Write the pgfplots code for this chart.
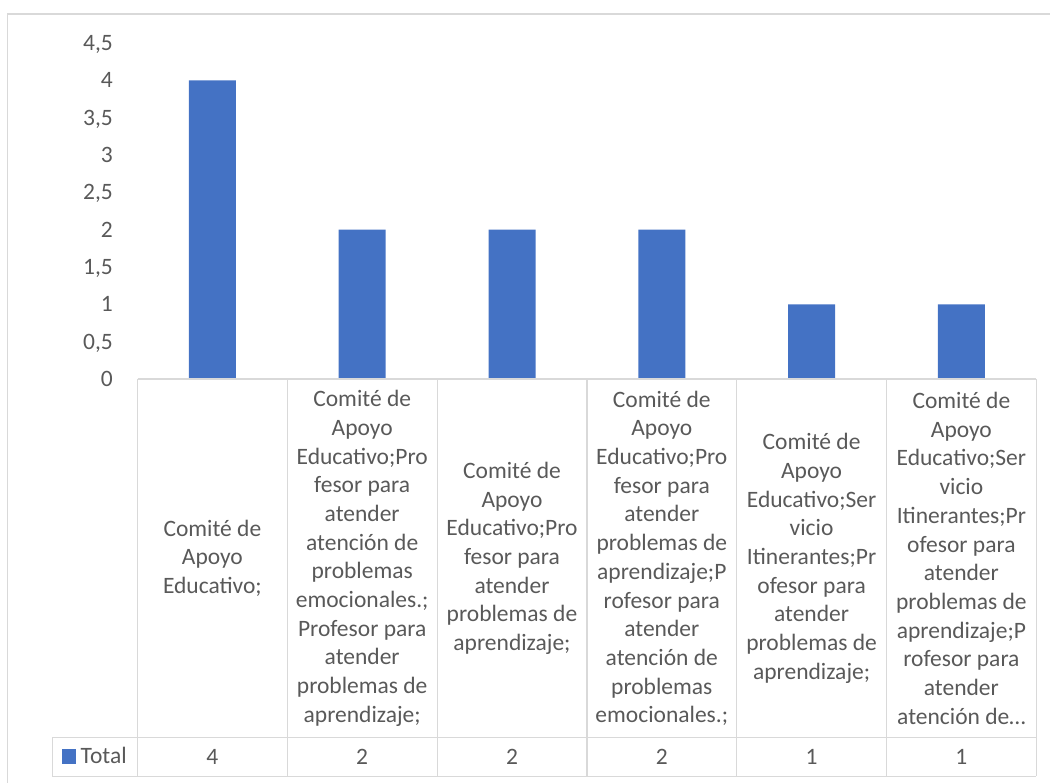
\documentclass[border=0pt]{standalone}
\usepackage{fontspec}
\setmainfont{Carlito}
\usepackage{pgfplots}
\pgfplotsset{compat=1.18}
\definecolor{barblue}{HTML}{4472C4}
\definecolor{txt}{HTML}{595959}
\definecolor{gridc}{HTML}{D9D9D9}
\newcommand{\cf}{\fontsize{23.5}{28.7}\selectfont}
\begin{document}
\begin{tikzpicture}
\useasboundingbox (0,0) rectangle (1050pt,-783pt);
% outer chart border (top and left visible)
\draw[gridc, line width=1.3pt] (7.3pt,-783pt) -- (7.3pt,-14pt) -- (1050pt,-14pt);
\begin{axis}[
  at={(137.5pt,-379pt)}, anchor=south west,
  scale only axis, width=898.8pt, height=336pt,
  xmin=-0.5, xmax=5.5, ymin=0, ymax=4.5,
  clip=false,
  /pgf/number format/assume math mode=true,
  axis line style={draw=none},
  major tick length=0pt,
  ytick={0,0.5,1,1.5,2,2.5,3,3.5,4,4.5},
  yticklabel style={/pgf/number format/.cd, use comma, fixed, precision=1, assume math mode=true, /tikz/.cd,
     anchor=east, inner sep=0pt, xshift=-24.5pt, text depth=0pt, font=\cf, text=txt},
  xtick={0,1,2,3,4,5},
  xticklabels={
    {Comité de\\Apoyo\\Educativo;},
    {Comité de\\Apoyo\\Educativo;Pro\\fesor para\\atender\\atención de\\problemas\\emocionales.;\\Profesor para\\atender\\problemas de\\aprendizaje;},
    {Comité de\\Apoyo\\Educativo;Pro\\fesor para\\atender\\problemas de\\aprendizaje;},
    {Comité de\\Apoyo\\Educativo;Pro\\fesor para\\atender\\problemas de\\aprendizaje;P\\rofesor para\\atender\\atención de\\problemas\\emocionales.;},
    {Comité de\\Apoyo\\Educativo;Ser\\vicio\\Itinerantes;Pr\\ofesor para\\atender\\problemas de\\aprendizaje;},
    {Comité de\\Apoyo\\Educativo;Ser\\vicio\\Itinerantes;Pr\\ofesor para\\atender\\problemas de\\aprendizaje;P\\rofesor para\\atender\\atención de…}
  },
  xticklabel style={anchor=center, align=center, yshift=-179.3pt, font=\cf, text=txt, inner sep=0pt},
  legend style={at={(-0.08367,-1.1235)}, anchor=west, draw=none, fill=none, inner sep=0pt, outer sep=0pt,
     font=\cf, text=txt, nodes={inner sep=0pt}},
  legend cell align=left,
  legend image code/.code={\fill[barblue] (0pt,-7.1pt) rectangle (13.7pt,7.1pt); \path (18.4pt,0pt);},
]
\addplot[ybar, bar width=47pt, bar shift=0pt, fill=barblue, draw=none]
  coordinates {(0,4) (1,2) (2,2) (3,2) (4,1) (5,1)};
\addlegendentry{Total}
\addplot[forget plot, draw=none, mark=none, nodes near coords, point meta=explicit,
  every node near coord/.append style={anchor=center, yshift=-377.5pt, font=\cf, text=txt, inner sep=0pt,
    /pgf/number format/assume math mode=true}]
  coordinates {(0,0) [4] (1,0) [2] (2,0) [2] (3,0) [2] (4,0) [1] (5,0) [1]};
\end{axis}
% data table grid
\begin{scope}[gridc, line width=1.2pt]
\draw (137.5pt,-379pt) -- (1036.3pt,-379pt);
\draw (52.3pt,-737.7pt) -- (1036.3pt,-737.7pt);
\draw (52.3pt,-776.3pt) -- (1036.3pt,-776.3pt);
\draw (52.3pt,-737.7pt) -- (52.3pt,-776.3pt);
\foreach \xx in {137.5,287.3,437.1,586.9,736.7,886.5,1036.3}
  \draw (\xx pt,-379pt) -- (\xx pt,-776.3pt);
\end{scope}
\end{tikzpicture}
\end{document}
